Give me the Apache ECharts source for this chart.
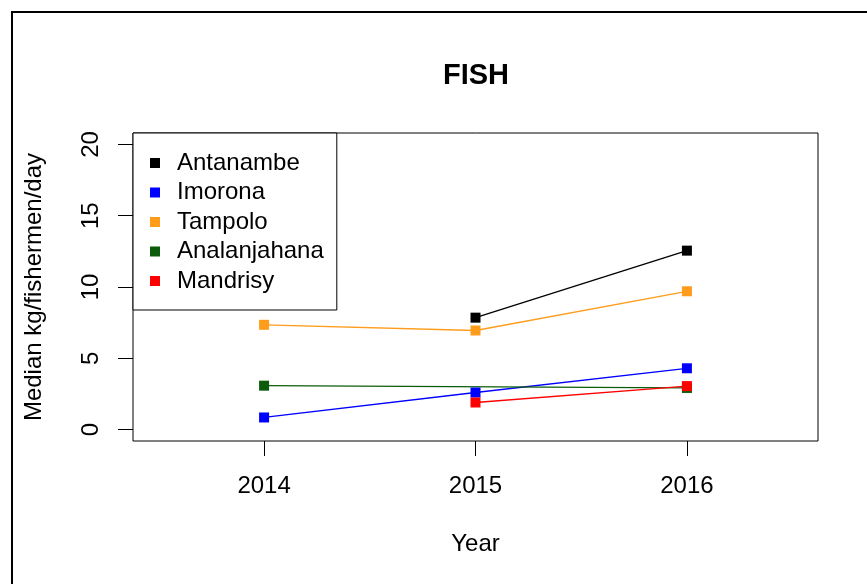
<!DOCTYPE html>
<html>
<head>
<meta charset="utf-8">
<script src="https://cdn.jsdelivr.net/npm/echarts@6/dist/echarts.min.js"></script>
<style>
  html, body { margin: 0; padding: 0; background: #ffffff; }
  #fishChart { width: 867px; height: 584px; }
</style>
</head>
<body>
<div id="fishChart"></div>
<script>
// data
var siteNames = ["Antanambe", "Imorona", "Tampolo", "Analanjahana", "Mandrisy"];
var siteColors = ["#000000", "#0000ff", "#ff9c1c", "#0a5c0a", "#ff0000"];
var yearTicks = [2014, 2015, 2016];
var valueTicks = [0, 5, 10, 15, 20];

var antanambe = [[2015, 7.85], [2016, 12.55]];
var imorona = [[2014, 0.85], [2015, 2.6], [2016, 4.3]];
var tampolo = [[2014, 7.35], [2015, 6.95], [2016, 9.7]];
var analanjahana = [[2014, 3.08], [2016, 2.92]];
var mandrisy = [[2015, 1.9], [2016, 3.05]];

var siteData = [antanambe, imorona, tampolo, analanjahana, mandrisy];

var myChart = echarts.init(document.getElementById("fishChart"));

var seriesList = [];
siteNames.forEach(function (name, i) {
  seriesList.push({
    name: name,
    type: "line",
    data: siteData[i],
    symbol: "rect",
    symbolSize: 10,
    showAllSymbol: true,
    lineStyle: { color: siteColors[i], width: 1.3 },
    itemStyle: { color: siteColors[i] }
  });
});

var option = {
  backgroundColor: "#ffffff",
  animation: false,
  textStyle: { fontFamily: "Liberation Sans, Arial, sans-serif" },
  title: {
    text: "FISH",
    left: 471,
    top: 56,
    textAlign: "center",
    textStyle: { fontSize: 29, fontWeight: "bold", color: "#000" }
  },
  graphic: [{
    type: "rect",
    shape: { x: 12, y: 12, width: 900, height: 620 },
    style: { fill: null, stroke: "#000", lineWidth: 2 },
    z: 100
  }],
  legend: {
    data: siteNames,
    orient: "vertical",
    left: 133,
    top: 133,
    icon: "rect",
    itemWidth: 10,
    itemHeight: 10,
    itemGap: 5.5,
    padding: [18, 13, 17, 17],
    borderColor: "#000",
    borderWidth: 1,
    backgroundColor: "#fff",
    textStyle: { fontSize: 24, color: "#000", padding: [0, 0, 0, 12] },
    z: 10
  },
  grid: {
    left: 133,
    right: 49,
    top: 133,
    bottom: 143,
    show: true,
    borderColor: "#000",
    borderWidth: 1,
    containLabel: false
  },
  xAxis: {
    type: "value",
    min: 2013.38,
    max: 2016.62,
    name: "Year",
    nameLocation: "middle",
    nameGap: 91,
    nameTextStyle: { fontSize: 24, color: "#000" },
    axisLine: { show: false, onZero: false },
    splitLine: { show: false },
    axisTick: {
      show: true,
      length: 15,
      customValues: yearTicks,
      lineStyle: { color: "#000" }
    },
    axisLabel: {
      customValues: yearTicks,
      margin: 33,
      fontSize: 24,
      color: "#000",
      formatter: function (v) { return String(v); }
    }
  },
  yAxis: {
    type: "value",
    min: -0.8,
    max: 20.8,
    name: "Median kg/fishermen/day",
    nameLocation: "middle",
    nameGap: 87,
    nameRotate: 90,
    nameTextStyle: { fontSize: 24, color: "#000" },
    axisLine: { show: false, onZero: false },
    splitLine: { show: false },
    axisTick: {
      show: true,
      length: 15,
      customValues: valueTicks,
      lineStyle: { color: "#000" }
    },
    axisLabel: {
      customValues: valueTicks,
      rotate: 90,
      margin: 30,
      fontSize: 24,
      color: "#000"
    }
  },
  series: seriesList
};

myChart.setOption(option);
window.addEventListener("resize", function () {
  myChart.resize();
});
</script>
</body>
</html>
